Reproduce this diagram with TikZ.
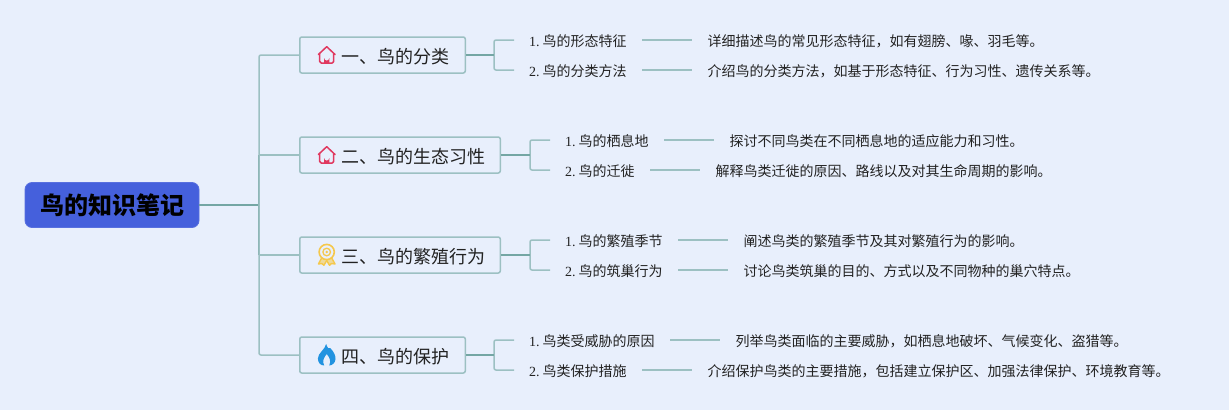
\documentclass[tikz,border=0pt]{standalone}
\usepackage{fontspec}
\setmainfont{Liberation Serif}
\newfontfamily\cjk{Noto Sans CJK SC}
\definecolor{bgc}{HTML}{E8EFFC}
\definecolor{rootc}{HTML}{4560DC}
\definecolor{edgec}{HTML}{9CC0C2}
\definecolor{darkedge}{HTML}{74A6A4}
\definecolor{housec}{HTML}{E0385F}
\definecolor{medalc}{HTML}{F5C84C}
\definecolor{flamec}{HTML}{2293E0}
\definecolor{inkc}{HTML}{222222}
\tikzset{
  rootbox/.style={draw=rootc!90!white,fill=rootc,rounded corners=7pt,line width=.8pt,inner sep=0pt,minimum width=174pt,minimum height=45pt,font=\cjk\fontsize{24}{24}\selectfont\bfseries,text=black},
  topicbox/.style={draw=edgec,rounded corners=2pt,line width=1.5pt,inner sep=0pt,minimum height=36pt,anchor=west},
  topiclabel/.style={anchor=west,inner sep=0pt,font=\cjk\fontsize{18}{18}\selectfont,text=inkc},
  sublabel/.style={anchor=west,inner sep=0pt,text height=14pt,text depth=2pt,font=\fontsize{14}{14}\selectfont,text=inkc},
  desclabel/.style={anchor=west,inner sep=0pt,text height=14pt,text depth=2pt,font=\cjk\fontsize{14}{14}\selectfont,text=inkc},
  link/.style={draw=edgec,line width=1.5pt,rounded corners=2pt},
  mainlink/.style={draw=darkedge,line width=1.5pt},
}
\newcommand{\houseicon}[2]{%
  \begin{scope}[shift={(#1,#2)}]
    \draw[housec,line width=1.5pt,line join=round,line cap=round] (-8.3,-0.5) -- (0,-8.3) -- (8.3,-0.5);
    \draw[housec,line width=1.5pt,line join=round,rounded corners=1.5pt] (-7,-1.5) -- (-7,8) -- (7,8) -- (7,-1.5);
    \fill[housec] (-2.6,8) -- (-2.6,3) arc[start angle=180,end angle=0,radius=2.6] -- (2.6,8) -- cycle;
  \end{scope}}
\begin{document}
\begin{tikzpicture}[x=1pt,y=-1pt]
\useasboundingbox (0,0) rectangle (1229,410);
\fill[bgc] (0,0) rectangle (1229,410);
% root
\node[rootbox] (root) at (112,205) {鸟的知识笔记};
\coordinate (trunk) at (259,205);
% topics
\node[topicbox,minimum width=165.5pt] (t1) at (299,55) {};
\node[topicbox,minimum width=200.5pt] (t2) at (299,155) {};
\node[topicbox,minimum width=200.5pt] (t3) at (299,255) {};
\node[topicbox,minimum width=165.5pt] (t4) at (299,355) {};
\node[topiclabel] (l1) at (341,57) {一、鸟的分类};
\node[topiclabel] (l2) at (341,157) {二、鸟的生态习性};
\node[topiclabel] (l3) at (341,257) {三、鸟的繁殖行为};
\node[topiclabel] (l4) at (341,357) {四、鸟的保护};
% icons
\houseicon{326.7}{55}
\houseicon{326.7}{155}
\begin{scope}[shift={(326.7,252)}]
  \draw[medalc,fill=medalc!55!bgc,line width=1.4pt,line join=round] (-4.5,5) -- (-8.3,12) -- (-4.8,11.5) -- (-2.8,13.3) -- (0,8.5) -- (2.8,13.3) -- (4.8,11.5) -- (8.3,12) -- (4.5,5) -- cycle;
  \draw[medalc,line width=1.6pt,fill=bgc] (0,0) circle[radius=7.6];
  \draw[medalc,line width=1.3pt] (0,0) circle[radius=3.8];
  \fill[medalc] (0,0) circle[radius=1.4];
\end{scope}
\begin{scope}[shift={(326.7,355)}]
  \fill[flamec] (-0.5,-11) .. controls (0.5,-7) and (2.5,-5.5) .. (3.5,-7) .. controls (7,-3.5) and (9,0.5) .. (8.8,4) .. controls (8.5,8) and (5.5,10.5) .. (2.5,10.5) .. controls (5,6) and (2.5,2) .. (0,-1) .. controls (-2.5,2) and (-5,6) .. (-2.5,10.5) .. controls (-6,10.5) and (-8.8,8) .. (-8.8,3.5) .. controls (-8.8,-2) and (-2,-5) .. (-0.5,-11) -- cycle;
\end{scope}
% level-one links
\draw[mainlink] (root.east) -- (trunk);
\draw[mainlink] (trunk) -- (259,155);
\draw[mainlink] (trunk) -- (259,255);
\draw[link] (trunk) |- (t1.west);
\draw[link] (trunk) |- (t4.west);
\draw[link,rounded corners=0pt] (259,155) -- (t2.west);
\draw[link,rounded corners=0pt] (259,255) -- (t3.west);
% sub labels
\newcommand{\cn}[1]{\hspace{3pt}{\cjk #1}}
\node[sublabel] (s11) at (529,40) {1.\cn{鸟的形态特征}};
\node[sublabel] (s12) at (529,70) {2.\cn{鸟的分类方法}};
\node[sublabel] (s21) at (565,140) {1.\cn{鸟的栖息地}};
\node[sublabel] (s22) at (565,170) {2.\cn{鸟的迁徙}};
\node[sublabel] (s31) at (565,240) {1.\cn{鸟的繁殖季节}};
\node[sublabel] (s32) at (565,270) {2.\cn{鸟的筑巢行为}};
\node[sublabel] (s41) at (529,340) {1.\cn{鸟类受威胁的原因}};
\node[sublabel] (s42) at (529,370) {2.\cn{鸟类保护措施}};
% descriptions
\node[desclabel] (d11) at (707.5,40) {详细描述鸟的常见形态特征，如有翅膀、喙、羽毛等。};
\node[desclabel] (d12) at (707.5,70) {介绍鸟的分类方法，如基于形态特征、行为习性、遗传关系等。};
\node[desclabel] (d21) at (729.5,140) {探讨不同鸟类在不同栖息地的适应能力和习性。};
\node[desclabel] (d22) at (715.5,170) {解释鸟类迁徙的原因、路线以及对其生命周期的影响。};
\node[desclabel] (d31) at (743.5,240) {阐述鸟类的繁殖季节及其对繁殖行为的影响。};
\node[desclabel] (d32) at (743.5,270) {讨论鸟类筑巢的目的、方式以及不同物种的巢穴特点。};
\node[desclabel] (d41) at (735.5,340) {列举鸟类面临的主要威胁，如栖息地破坏、气候变化、盗猎等。};
\node[desclabel] (d42) at (707.5,370) {介绍保护鸟类的主要措施，包括建立保护区、加强法律保护、环境教育等。};
% brackets
\coordinate (j1) at (494,55);
\coordinate (j2) at (530,155);
\coordinate (j3) at (530,255);
\coordinate (j4) at (494,355);
\foreach \t/\j/\a/\b in {t1/j1/s11/s12,t2/j2/s21/s22,t3/j3/s31/s32,t4/j4/s41/s42}{
  \draw[link,shorten >=15pt] (\j) |- (\a.west);
  \draw[link,shorten >=15pt] (\j) |- (\b.west);
  \draw[mainlink] (\t.east) -- (\j);
}
% sub to description
\foreach \a/\b in {s11/d11,s12/d12,s21/d21,s22/d22,s31/d31,s32/d32,s41/d41,s42/d42}{
  \draw[link,shorten <=15.5pt,shorten >=16pt] (\a.east) -- (\b.west);
}
\end{tikzpicture}
\end{document}
